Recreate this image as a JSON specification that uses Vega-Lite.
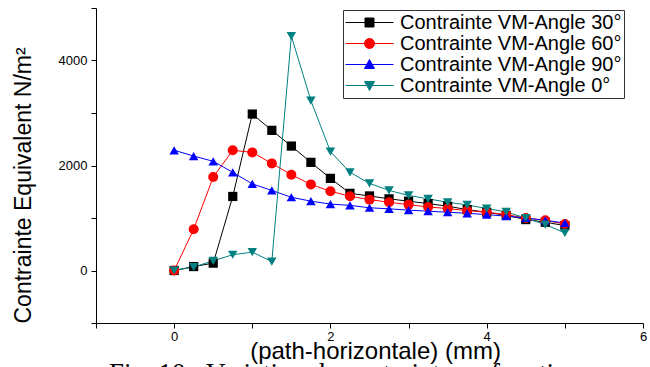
{
  "$schema": "https://vega.github.io/schema/vega-lite/v6.json",
  "width": 547,
  "height": 315,
  "autosize": "none",
  "padding": {"left": 96, "top": 8, "right": 7, "bottom": 44},
  "background": "white",
  "config": {
    "view": {"stroke": null},
    "font": "Liberation Sans",
    "axis": {"grid": false, "domainColor": "black", "tickColor": "black", "labelColor": "black", "titleColor": "black", "labelFont": "Liberation Sans", "titleFont": "Liberation Sans", "titleFontWeight": "normal"}
  },
  "title": {
    "text": "Fig. 10 : Variation de contrainte en fonction",
    "orient": "bottom",
    "anchor": "start",
    "font": "Liberation Serif",
    "fontSize": 27,
    "fontWeight": "normal",
    "color": "black",
    "offset": -2,
    "dx": 97
  },
  "data": {
    "values": [
      {"x": 0, "v": 0, "s": "Contrainte VM-Angle 30°"},
      {"x": 0.25, "v": 75, "s": "Contrainte VM-Angle 30°"},
      {"x": 0.5, "v": 140, "s": "Contrainte VM-Angle 30°"},
      {"x": 0.75, "v": 1410, "s": "Contrainte VM-Angle 30°"},
      {"x": 1, "v": 2980, "s": "Contrainte VM-Angle 30°"},
      {"x": 1.25, "v": 2670, "s": "Contrainte VM-Angle 30°"},
      {"x": 1.5, "v": 2370, "s": "Contrainte VM-Angle 30°"},
      {"x": 1.75, "v": 2060, "s": "Contrainte VM-Angle 30°"},
      {"x": 2, "v": 1755, "s": "Contrainte VM-Angle 30°"},
      {"x": 2.25, "v": 1470, "s": "Contrainte VM-Angle 30°"},
      {"x": 2.5, "v": 1420, "s": "Contrainte VM-Angle 30°"},
      {"x": 2.75, "v": 1365, "s": "Contrainte VM-Angle 30°"},
      {"x": 3, "v": 1320, "s": "Contrainte VM-Angle 30°"},
      {"x": 3.25, "v": 1275, "s": "Contrainte VM-Angle 30°"},
      {"x": 3.5, "v": 1225, "s": "Contrainte VM-Angle 30°"},
      {"x": 3.75, "v": 1160, "s": "Contrainte VM-Angle 30°"},
      {"x": 4, "v": 1110, "s": "Contrainte VM-Angle 30°"},
      {"x": 4.25, "v": 1050, "s": "Contrainte VM-Angle 30°"},
      {"x": 4.5, "v": 970, "s": "Contrainte VM-Angle 30°"},
      {"x": 4.75, "v": 920, "s": "Contrainte VM-Angle 30°"},
      {"x": 5, "v": 855, "s": "Contrainte VM-Angle 30°"},
      {"x": 0, "v": 0, "s": "Contrainte VM-Angle 60°"},
      {"x": 0.25, "v": 785, "s": "Contrainte VM-Angle 60°"},
      {"x": 0.5, "v": 1780, "s": "Contrainte VM-Angle 60°"},
      {"x": 0.75, "v": 2290, "s": "Contrainte VM-Angle 60°"},
      {"x": 1, "v": 2250, "s": "Contrainte VM-Angle 60°"},
      {"x": 1.25, "v": 2040, "s": "Contrainte VM-Angle 60°"},
      {"x": 1.5, "v": 1825, "s": "Contrainte VM-Angle 60°"},
      {"x": 1.75, "v": 1640, "s": "Contrainte VM-Angle 60°"},
      {"x": 2, "v": 1510, "s": "Contrainte VM-Angle 60°"},
      {"x": 2.25, "v": 1415, "s": "Contrainte VM-Angle 60°"},
      {"x": 2.5, "v": 1350, "s": "Contrainte VM-Angle 60°"},
      {"x": 2.75, "v": 1300, "s": "Contrainte VM-Angle 60°"},
      {"x": 3, "v": 1255, "s": "Contrainte VM-Angle 60°"},
      {"x": 3.25, "v": 1210, "s": "Contrainte VM-Angle 60°"},
      {"x": 3.5, "v": 1180, "s": "Contrainte VM-Angle 60°"},
      {"x": 3.75, "v": 1140, "s": "Contrainte VM-Angle 60°"},
      {"x": 4, "v": 1110, "s": "Contrainte VM-Angle 60°"},
      {"x": 4.25, "v": 1065, "s": "Contrainte VM-Angle 60°"},
      {"x": 4.5, "v": 1000, "s": "Contrainte VM-Angle 60°"},
      {"x": 4.75, "v": 955, "s": "Contrainte VM-Angle 60°"},
      {"x": 5, "v": 885, "s": "Contrainte VM-Angle 60°"},
      {"x": 0, "v": 2290, "s": "Contrainte VM-Angle 90°"},
      {"x": 0.25, "v": 2180, "s": "Contrainte VM-Angle 90°"},
      {"x": 0.5, "v": 2080, "s": "Contrainte VM-Angle 90°"},
      {"x": 0.75, "v": 1870, "s": "Contrainte VM-Angle 90°"},
      {"x": 1, "v": 1650, "s": "Contrainte VM-Angle 90°"},
      {"x": 1.25, "v": 1525, "s": "Contrainte VM-Angle 90°"},
      {"x": 1.5, "v": 1395, "s": "Contrainte VM-Angle 90°"},
      {"x": 1.75, "v": 1320, "s": "Contrainte VM-Angle 90°"},
      {"x": 2, "v": 1265, "s": "Contrainte VM-Angle 90°"},
      {"x": 2.25, "v": 1240, "s": "Contrainte VM-Angle 90°"},
      {"x": 2.5, "v": 1195, "s": "Contrainte VM-Angle 90°"},
      {"x": 2.75, "v": 1175, "s": "Contrainte VM-Angle 90°"},
      {"x": 3, "v": 1150, "s": "Contrainte VM-Angle 90°"},
      {"x": 3.25, "v": 1130, "s": "Contrainte VM-Angle 90°"},
      {"x": 3.5, "v": 1110, "s": "Contrainte VM-Angle 90°"},
      {"x": 3.75, "v": 1090, "s": "Contrainte VM-Angle 90°"},
      {"x": 4, "v": 1065, "s": "Contrainte VM-Angle 90°"},
      {"x": 4.25, "v": 1035, "s": "Contrainte VM-Angle 90°"},
      {"x": 4.5, "v": 1000, "s": "Contrainte VM-Angle 90°"},
      {"x": 4.75, "v": 955, "s": "Contrainte VM-Angle 90°"},
      {"x": 5, "v": 905, "s": "Contrainte VM-Angle 90°"},
      {"x": 0, "v": 0, "s": "Contrainte VM-Angle 0°"},
      {"x": 0.25, "v": 65, "s": "Contrainte VM-Angle 0°"},
      {"x": 0.5, "v": 185, "s": "Contrainte VM-Angle 0°"},
      {"x": 0.75, "v": 300, "s": "Contrainte VM-Angle 0°"},
      {"x": 1, "v": 350, "s": "Contrainte VM-Angle 0°"},
      {"x": 1.25, "v": 170, "s": "Contrainte VM-Angle 0°"},
      {"x": 1.5, "v": 4465, "s": "Contrainte VM-Angle 0°"},
      {"x": 1.75, "v": 3235, "s": "Contrainte VM-Angle 0°"},
      {"x": 2, "v": 2265, "s": "Contrainte VM-Angle 0°"},
      {"x": 2.25, "v": 1870, "s": "Contrainte VM-Angle 0°"},
      {"x": 2.5, "v": 1660, "s": "Contrainte VM-Angle 0°"},
      {"x": 2.75, "v": 1525, "s": "Contrainte VM-Angle 0°"},
      {"x": 3, "v": 1430, "s": "Contrainte VM-Angle 0°"},
      {"x": 3.25, "v": 1365, "s": "Contrainte VM-Angle 0°"},
      {"x": 3.5, "v": 1300, "s": "Contrainte VM-Angle 0°"},
      {"x": 3.75, "v": 1250, "s": "Contrainte VM-Angle 0°"},
      {"x": 4, "v": 1180, "s": "Contrainte VM-Angle 0°"},
      {"x": 4.25, "v": 1115, "s": "Contrainte VM-Angle 0°"},
      {"x": 4.5, "v": 1000, "s": "Contrainte VM-Angle 0°"},
      {"x": 4.75, "v": 875, "s": "Contrainte VM-Angle 0°"},
      {"x": 5, "v": 715, "s": "Contrainte VM-Angle 0°"}
    ]
  },
  "encoding": {
    "x": {
      "field": "x", "type": "quantitative",
      "scale": {"domain": [-1, 6], "nice": false, "zero": false},
      "axis": {
        "title": "(path-horizontale) (mm)",
        "values": [-1, 0, 1, 2, 3, 4, 5, 6],
        "labelExpr": "datum.value % 2 == 0 ? datum.label : ''",
        "labelFontSize": 13, "tickSize": 5, "labelPadding": 2,
        "titleFontSize": 24, "titleX": 279, "titleY": 35, "titleAlign": "center", "titleBaseline": "alphabetic",
        "labelFlush": false, "labelOverlap": false
      }
    },
    "y": {
      "field": "v", "type": "quantitative",
      "scale": {"domain": [-1000, 5000], "nice": false, "zero": false},
      "axis": {
        "title": "Contrainte Equivalent  N/m²",
        "values": [-1000, 0, 1000, 2000, 3000, 4000, 5000],
        "labelExpr": "datum.value % 2000 == 0 ? datum.value + '' : ''",
        "labelFontSize": 13, "tickSize": 5, "labelPadding": 4,
        "titleFontSize": 23, "titleAnchor": "start", "titlePadding": 23,
        "labelFlush": false, "labelOverlap": false
      }
    },
    "color": {
      "field": "s", "type": "nominal",
      "scale": {
        "domain": ["Contrainte VM-Angle 30°", "Contrainte VM-Angle 60°", "Contrainte VM-Angle 90°", "Contrainte VM-Angle 0°"],
        "range": ["#000000", "#ff0000", "#0000ff", "#008080"]
      },
      "legend": {
        "title": null,
        "orient": "none",
        "legendX": 247,
        "legendY": 2,
        "padding": 2,
        "strokeColor": "#333333",
        "fillColor": "white",
        "labelFont": "Liberation Sans",
        "labelFontSize": 20,
        "labelColor": "black",
        "labelLimit": 400,
        "labelOffset": 34,
        "rowPadding": 0,
        "symbolSize": 400,
        "symbolStrokeWidth": 1,
        "symbolOpacity": 1,
        "encode": {
          "symbols": {
            "update": {
              "shape": {"signal": "datum.value === 'Contrainte VM-Angle 30°' ? 'M-1,0H3.8M0.95,-0.45H1.85V0.45H0.95Z' : datum.value === 'Contrainte VM-Angle 60°' ? 'M-1,0H3.8M0.9,0A0.5,0.5,0,1,0,1.9,0A0.5,0.5,0,1,0,0.9,0Z' : datum.value === 'Contrainte VM-Angle 90°' ? 'M-1,0H3.8M1.4,-0.5L1.9,0.4L0.9,0.4Z' : 'M-1,0H3.8M1.4,0.5L1.9,-0.4L0.9,-0.4Z'"},
              "fill": {"signal": "scale('color', datum.value)"},
              "stroke": {"signal": "scale('color', datum.value)"},
              "strokeWidth": {"value": 1},
              "opacity": {"value": 1}
            }
          }
        }
      }
    }
  },
  "layer": [
    {"mark": {"type": "line", "strokeWidth": 1}},
    {
      "transform": [{"filter": "datum.s === 'Contrainte VM-Angle 30°'"}],
      "mark": {"type": "point", "shape": "square", "filled": true, "opacity": 1, "size": 85}
    },
    {
      "transform": [{"filter": "datum.s === 'Contrainte VM-Angle 60°'"}],
      "mark": {"type": "point", "shape": "circle", "filled": true, "opacity": 1, "size": 100}
    },
    {
      "transform": [{"filter": "datum.s === 'Contrainte VM-Angle 90°'"}],
      "mark": {"type": "point", "shape": "triangle-up", "filled": true, "opacity": 1, "size": 90}
    },
    {
      "transform": [{"filter": "datum.s === 'Contrainte VM-Angle 0°'"}],
      "mark": {"type": "point", "shape": "triangle-down", "filled": true, "opacity": 1, "size": 90}
    }
  ]
}
